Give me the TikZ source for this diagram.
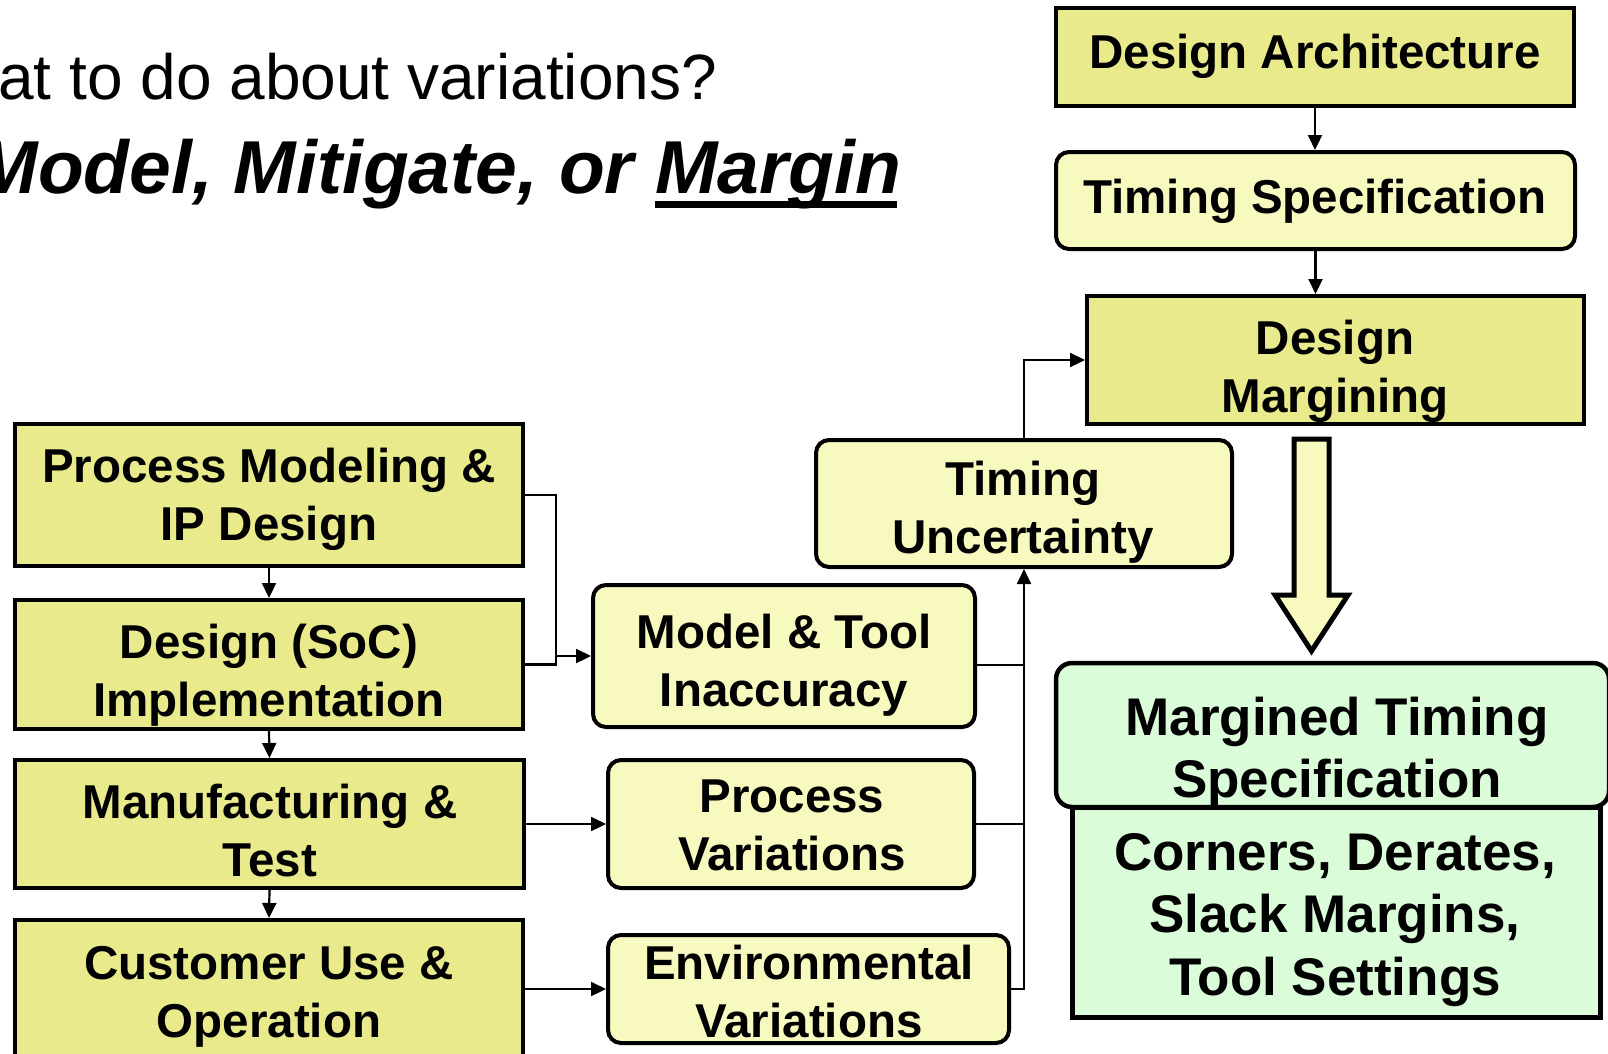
\documentclass[tikz,border=0pt]{standalone}
\usepackage{fontspec}
\setmainfont{Liberation Sans}
\usetikzlibrary{arrows.meta}
\definecolor{boxdark}{RGB}{233,234,140}
\definecolor{boxlight}{RGB}{247,249,190}
\definecolor{boxgreen}{RGB}{218,252,216}
% centred lines whose first baseline is the node's base anchor
\newcommand{\mlines}[1]{\begin{tabular}[t]{@{}c@{}}#1\end{tabular}}
\begin{document}
\begin{tikzpicture}[x=1pt,y=-1pt,
  darkbox/.style={draw,line width=4pt,fill=boxdark,inner sep=0pt},
  lightbox/.style={draw,line width=4pt,fill=boxlight,rounded corners=13pt,inner sep=0pt},
  greenround/.style={draw,line width=4.5pt,fill=boxgreen,rounded corners=16pt,inner sep=0pt},
  greenrect/.style={draw,line width=5pt,fill=boxgreen,inner sep=0pt},
  boxtext/.style={anchor=base,inner sep=0pt,font=\bfseries\fontsize{47.5pt}{58pt}\selectfont},
  bigtext/.style={anchor=base,inner sep=0pt,font=\bfseries\fontsize{53pt}{62.5pt}\selectfont},
  headline/.style={inner sep=0pt,font=\bfseries\itshape\fontsize{75pt}{80pt}\selectfont},
  wire/.style={line width=2.2pt},
  feed/.style={wire,-{Triangle[length=15pt,width=14pt]}},
]
\useasboundingbox (0,0) rectangle (1608,1053);
\fill[white] (0,0) rectangle (1608,1053);
\clip (0,0) rectangle (1608,1053);

% heading
\node[anchor=base west,inner sep=0pt,font=\fontsize{64pt}{70pt}\selectfont] (q) at (-2,99) {at to do about variations?};
\node[headline,anchor=base west] (mg) at (655,193) {Margin};
\node[headline,anchor=base east] (mm) at ([xshift=-20.8pt]mg.base west) {Model, Mitigate, or};
\draw[line width=7pt] ([shift={(0,11)}]mg.base west) -- ([shift={(242,11)}]mg.base west);

% design flow (left column)
\node[darkbox,minimum width=508pt,minimum height=142pt] (pm) at (269,495) {};
\node[darkbox,minimum width=508pt,minimum height=129pt] (dsi) at (269,664.5) {};
\node[darkbox,minimum width=509pt,minimum height=128pt] (mt) at (269.5,824) {};
\node[darkbox,minimum width=508pt,minimum height=150pt] (cu) at (269,995) {};
\node[boxtext] (pm-t) at (269,482) {\mlines{Process Modeling \&\\IP Design}};
\node[boxtext] (dsi-t) at (269,658) {\mlines{Design (SoC)\\Implementation}};
\node[boxtext] (mt-t) at (270,818) {\mlines{Manufacturing \&\\Test}};
\node[boxtext] (cu-t) at (269,979) {\mlines{Customer Use \&\\Operation}};

% sources of uncertainty
\node[lightbox,minimum width=382pt,minimum height=142pt] (mti) at (784,656) {};
\node[lightbox,minimum width=366pt,minimum height=128pt] (pv) at (791,824) {};
\node[lightbox,minimum width=401pt,minimum height=108pt] (ev) at (808.5,989) {};
\node[lightbox,minimum width=416pt,minimum height=127pt] (tu) at (1024,503.5) {};
\node[boxtext] (mti-t) at (784,648) {\mlines{Model \& Tool\\Inaccuracy}};
\node[boxtext] (pv-t) at (792,812) {\mlines{Process\\Variations}};
\node[boxtext] (ev-t) at (809,979) {\mlines{Environmental\\Variations}};
\node[boxtext] (tu-t) at (1023,495) {\mlines{Timing\\Uncertainty}};

% timing flow (right column)
\node[darkbox,minimum width=518pt,minimum height=98pt] (da) at (1315,57) {};
\node[lightbox,minimum width=519pt,minimum height=97pt] (ts) at (1315.5,200.5) {};
\node[darkbox,minimum width=497pt,minimum height=128pt] (dm) at (1335.5,360) {};
\node[boxtext] (da-t) at (1315,68) {Design Architecture};
\node[boxtext] (ts-t) at (1315,213) {Timing Specification};
\node[boxtext] (dm-t) at (1335,354) {\mlines{Design\\Margining}};

\node[greenrect,minimum width=528pt,minimum height=210pt] (cds) at (1336,912) {};
\node[greenround,minimum width=553pt,minimum height=144pt] (mts) at (1332.5,735) {};
\node[bigtext] (mts-t) at (1337,735) {\mlines{Margined Timing\\Specification}};
\node[bigtext] (cds-t) at (1335,870) {\mlines{Corners, Derates,\\Slack Margins,\\Tool Settings}};

% hollow block arrow from margining to the margined specification
\draw[line width=5pt,fill=boxlight,line join=miter]
  (1294,439) -- (1329,439) -- (1329,595) -- (1348,595) -- (1311.5,651)
  -- (1275,595) -- (1294,595) -- cycle;

% connectors
\draw[feed] (pm.south) -- (dsi.north);
\draw[feed] (dsi.south) -- (mt.north);
\draw[feed] (mt.south) -- (cu.north);

\coordinate (jn) at (556,656);
\draw[wire] (pm.east) -| (jn |- dsi.east) -- (dsi.east);
\draw[feed] (jn) -- (mti.west);
\draw[feed] (mt.east) -- (pv.west);
\draw[feed] (cu.east |- ev.west) -- (ev.west);

\draw[feed] (ev.east) -| (tu.south);
\draw[wire] (mti.east |- 0,665) -- (tu.south |- 0,665);
\draw[wire] (pv.east) -- (pv.east -| tu.south);
\draw[feed] (tu.north) |- (dm.west);

\draw[feed] (da.south) -- (da.south |- ts.north);
\draw[feed] (ts.south) -- (ts.south |- dm.north);
\end{tikzpicture}
\end{document}
